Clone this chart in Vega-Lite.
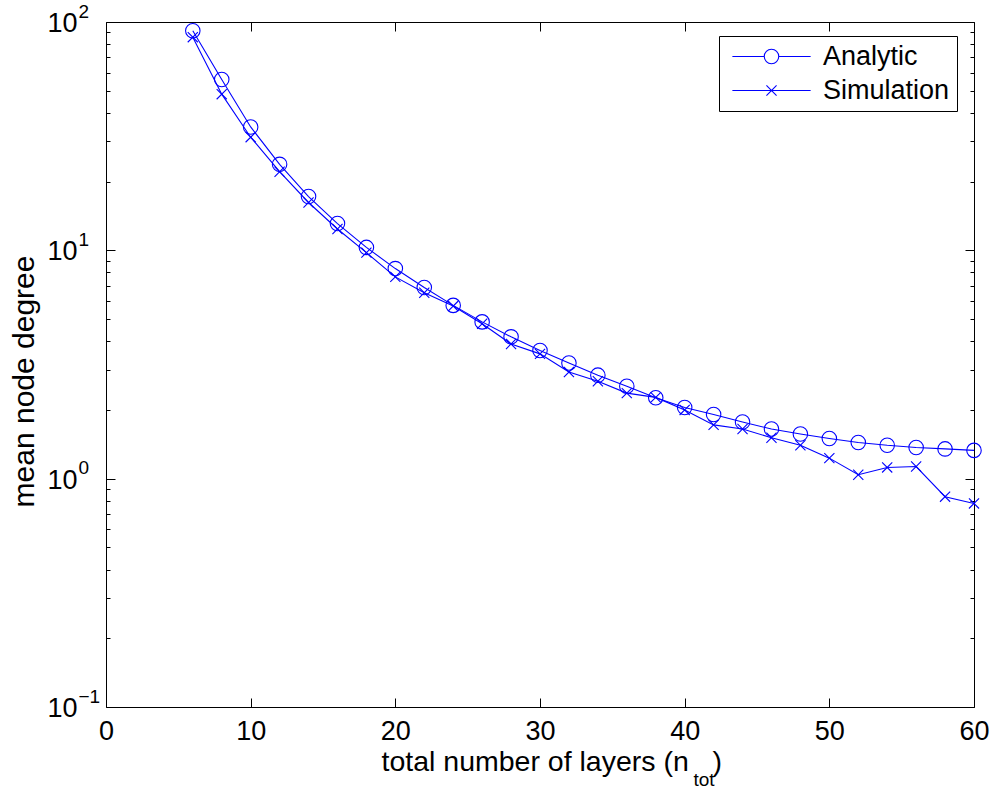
{
  "$schema": "https://vega.github.io/schema/vega-lite/v6.json",
  "width": 868,
  "height": 685,
  "autosize": "none",
  "padding": {"left": 106, "top": 22, "right": 18, "bottom": 79},
  "background": "white",
  "config": {
    "font": "Liberation Sans",
    "view": {"stroke": "black", "strokeWidth": 1},
    "axis": {"grid": false, "domain": false, "tickColor": "black", "labelColor": "black", "titleColor": "black", "labelFont": "Liberation Sans", "titleFont": "Liberation Sans", "titleFontWeight": "normal", "labelFontSize": 27, "titleFontSize": 30}
  },
  "data": {
    "values": [
      {"n": 6, "v": 91.6, "series": "Analytic"},
      {"n": 8, "v": 56.0, "series": "Analytic"},
      {"n": 10, "v": 34.7, "series": "Analytic"},
      {"n": 12, "v": 23.8, "series": "Analytic"},
      {"n": 14, "v": 17.2, "series": "Analytic"},
      {"n": 16, "v": 13.1, "series": "Analytic"},
      {"n": 18, "v": 10.3, "series": "Analytic"},
      {"n": 20, "v": 8.32, "series": "Analytic"},
      {"n": 22, "v": 6.87, "series": "Analytic"},
      {"n": 24, "v": 5.74, "series": "Analytic"},
      {"n": 26, "v": 4.86, "series": "Analytic"},
      {"n": 28, "v": 4.18, "series": "Analytic"},
      {"n": 30, "v": 3.64, "series": "Analytic"},
      {"n": 32, "v": 3.21, "series": "Analytic"},
      {"n": 34, "v": 2.84, "series": "Analytic"},
      {"n": 36, "v": 2.54, "series": "Analytic"},
      {"n": 38, "v": 2.26, "series": "Analytic"},
      {"n": 40, "v": 2.05, "series": "Analytic"},
      {"n": 42, "v": 1.91, "series": "Analytic"},
      {"n": 44, "v": 1.77, "series": "Analytic"},
      {"n": 46, "v": 1.65, "series": "Analytic"},
      {"n": 48, "v": 1.57, "series": "Analytic"},
      {"n": 50, "v": 1.50, "series": "Analytic"},
      {"n": 52, "v": 1.44, "series": "Analytic"},
      {"n": 54, "v": 1.40, "series": "Analytic"},
      {"n": 56, "v": 1.37, "series": "Analytic"},
      {"n": 58, "v": 1.35, "series": "Analytic"},
      {"n": 60, "v": 1.33, "series": "Analytic"},
      {"n": 6, "v": 85.8, "series": "Simulation"},
      {"n": 8, "v": 48.3, "series": "Simulation"},
      {"n": 10, "v": 31.3, "series": "Simulation"},
      {"n": 12, "v": 22.1, "series": "Simulation"},
      {"n": 14, "v": 16.2, "series": "Simulation"},
      {"n": 16, "v": 12.4, "series": "Simulation"},
      {"n": 18, "v": 9.77, "series": "Simulation"},
      {"n": 20, "v": 7.65, "series": "Simulation"},
      {"n": 22, "v": 6.52, "series": "Simulation"},
      {"n": 24, "v": 5.70, "series": "Simulation"},
      {"n": 26, "v": 4.77, "series": "Simulation"},
      {"n": 28, "v": 3.89, "series": "Simulation"},
      {"n": 30, "v": 3.52, "series": "Simulation"},
      {"n": 32, "v": 2.93, "series": "Simulation"},
      {"n": 34, "v": 2.67, "series": "Simulation"},
      {"n": 36, "v": 2.37, "series": "Simulation"},
      {"n": 38, "v": 2.27, "series": "Simulation"},
      {"n": 40, "v": 2.00, "series": "Simulation"},
      {"n": 42, "v": 1.72, "series": "Simulation"},
      {"n": 44, "v": 1.65, "series": "Simulation"},
      {"n": 46, "v": 1.51, "series": "Simulation"},
      {"n": 48, "v": 1.40, "series": "Simulation"},
      {"n": 50, "v": 1.23, "series": "Simulation"},
      {"n": 52, "v": 1.04, "series": "Simulation"},
      {"n": 54, "v": 1.12, "series": "Simulation"},
      {"n": 56, "v": 1.13, "series": "Simulation"},
      {"n": 58, "v": 0.834, "series": "Simulation"},
      {"n": 60, "v": 0.779, "series": "Simulation"}
    ]
  },
  "layer": [
    {
      "mark": {"type": "line", "color": "#0000ff", "strokeWidth": 1.1},
      "encoding": {
        "x": {
          "field": "n", "type": "quantitative",
          "scale": {"domain": [0, 60], "nice": false, "zero": false, "padding": 0},
          "axis": {
            "orient": "bottom", "values": [0, 10, 20, 30, 40, 50, 60], "tickSize": -9, "labelPadding": 20,
            "labelFlush": false, "labelOverlap": false,
            "title": "total number of layers (n\u00a0\u00a0\u00a0)",
            "titleFontSize": 28.5, "titleX": 275, "titleY": 63, "titleAlign": "left", "titleBaseline": "alphabetic", "titleAnchor": null
          }
        },
        "y": {
          "field": "v", "type": "quantitative",
          "scale": {"type": "log", "domain": [0.1, 100], "nice": false, "padding": 0},
          "axis": {
            "orient": "left",
            "values": [0.1, 0.2, 0.3, 0.4, 0.5, 0.6, 0.7, 0.8, 0.9, 1, 2, 3, 4, 5, 6, 7, 8, 9, 10, 20, 30, 40, 50, 60, 70, 80, 90, 100],
            "labelExpr": "datum.value === 100 || datum.value === 10 || datum.value === 1 || datum.value === 0.1 ? '10' : ''",
            "tickSize": {"condition": {"test": "datum.value === 0.1 || datum.value === 1 || datum.value === 10 || datum.value === 100", "value": -9}, "value": -4},
            "labelPadding": 38,
            "labelOffset": 1.5,
            "labelOverlap": false,
            "labelFlush": false,
            "title": "mean node degree",
            "titleX": -73, "titleY": 359, "titleAngle": -90, "titleAlign": "center", "titleBaseline": "alphabetic", "titleAnchor": null
          }
        },
        "detail": {"field": "series"}
      }
    },
    {
      "mark": {"type": "point", "filled": false, "color": "#0000ff", "strokeWidth": 1.1, "size": 210, "opacity": 1},
      "encoding": {
        "x": {
          "field": "n", "type": "quantitative",
          "scale": {"domain": [0, 60], "nice": false, "zero": false, "padding": 0},
          "axis": {
            "orient": "top", "values": [0, 10, 20, 30, 40, 50, 60], "tickSize": -9, "labels": false,
            "title": "tot", "titleFontSize": 19, "titleX": 587, "titleY": 763, "titleAlign": "left", "titleBaseline": "alphabetic", "titleAnchor": null, "titleAngle": 0
          }
        },
        "y": {
          "field": "v", "type": "quantitative",
          "scale": {"type": "log", "domain": [0.1, 100], "nice": false, "padding": 0},
          "axis": {
            "orient": "right",
            "values": [0.1, 0.2, 0.3, 0.4, 0.5, 0.6, 0.7, 0.8, 0.9, 1, 2, 3, 4, 5, 6, 7, 8, 9, 10, 20, 30, 40, 50, 60, 70, 80, 90, 100],
            "tickSize": {"condition": {"test": "datum.value === 0.1 || datum.value === 1 || datum.value === 10 || datum.value === 100", "value": -9}, "value": -4},
            "labelExpr": "datum.value === 100 ? '2' : datum.value === 10 ? '1' : datum.value === 1 ? '0' : datum.value === 0.1 ? '−1' : ''",
            "labelFontSize": 19,
            "labelAlign": "left",
            "labelPadding": -887,
            "labelOffset": -11,
            "labelOverlap": false,
            "labelFlush": false,
            "labelBound": false,
            "title": null
          }
        },
        "shape": {
          "field": "series", "type": "nominal",
          "scale": {"domain": ["Analytic", "Simulation"], "range": ["circle", "M-0.7,-0.7L0.7,0.7M-0.7,0.7L0.7,-0.7"]},
          "legend": null
        }
      }
    },
    {
      "transform": [{"filter": "false"}],
      "mark": {"type": "point", "filled": false, "color": "#0000ff", "strokeWidth": 1.1, "size": 210},
      "encoding": {
        "x": {"field": "n", "type": "quantitative", "axis": null},
        "y": {"field": "v", "type": "quantitative", "axis": null},
        "shape": {
          "field": "series", "type": "nominal",
          "scale": {"domain": ["Analytic", "Simulation"], "range": ["M-5.4,0H-1M1,0H5.4M-1,0A1,1 0 1,0 1,0A1,1 0 1,0 -1,0", "M-5.4,0H5.4M-0.7,-0.7L0.7,0.7M-0.7,0.7L0.7,-0.7"]},
          "legend": {
            "title": null,
            "orient": "none",
            "legendX": 613,
            "legendY": 14,
            "strokeColor": "black",
            "fillColor": "white",
            "padding": 7,
            "cornerRadius": 0,
            "labelFontSize": 27,
            "labelFont": "Liberation Sans",
            "labelColor": "black",
            "symbolSize": 210,
            "symbolStrokeColor": "#0000ff",
            "symbolFillColor": "transparent",
            "symbolStrokeWidth": 1.1,
            "symbolOpacity": 1,
            "symbolOffset": 32,
            "labelOffset": 38,
            "rowPadding": 6
          }
        }
      }
    }
  ],
  "resolve": {"scale": {"shape": "independent"}, "axis": {"x": "independent", "y": "independent"}}
}
